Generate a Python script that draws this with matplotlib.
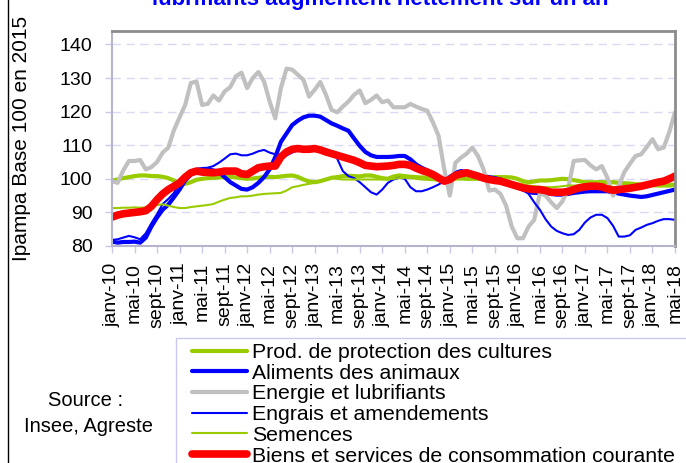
import matplotlib.pyplot as plt
from matplotlib.lines import Line2D
from matplotlib.patches import Rectangle

plt.rcParams['font.family'] = ['Liberation Sans', 'DejaVu Sans']

# monthly index, janv-10 (0) .. mai-18 (100)
months = list(range(101))
tick_pos = list(range(0, 101, 4))
tick_labels = ['janv-10', 'mai-10', 'sept-10', 'janv-11', 'mai-11', 'sept-11',
               'janv-12', 'mai-12', 'sept-12', 'janv-13', 'mai-13', 'sept-13',
               'janv-14', 'mai-14', 'sept-14', 'janv-15', 'mai-15', 'sept-15',
               'janv-16', 'mai-16', 'sept-16', 'janv-17', 'mai-17', 'sept-17',
               'janv-18', 'mai-18']

protection = [99.5, 99.8, 100.2, 100.5, 100.8, 101.0, 101.0, 100.8, 100.8, 100.6,
              100.2, 99.5, 98.8, 98.5, 99.0, 99.7, 100.0, 100.2, 100.3, 100.4,
              100.5, 100.6, 100.4, 100.2, 100.0, 100.1, 100.3, 100.5, 100.6, 100.5,
              100.7, 100.9, 101.0, 100.6, 99.8, 99.2, 99.0, 99.3, 99.8, 100.3,
              100.5, 100.8, 100.9, 100.8, 100.7, 101.0, 101.0, 100.6, 100.2, 100.0,
              100.7, 101.0, 100.8, 100.6, 100.5, 100.4, 100.4, 100.3, 100.2, 100.0,
              100.0, 100.1, 100.1, 100.0, 100.0, 100.0, 100.2, 100.3, 100.5, 100.5,
              100.5, 100.4, 100.0, 99.3, 99.0, 99.2, 99.5, 99.5, 99.6, 99.8,
              100.0, 99.9, 99.6, 99.3, 99.0, 99.0, 99.0, 99.0, 99.0, 99.0,
              98.8, 98.7, 98.6, 98.4, 98.3, 98.2, 98.1, 98.0, 98.0, 98.0,
              98.2]

aliments = [81.3, 81.0, 81.2, 81.2, 81.3, 81.0, 82.5, 85.8, 88.5, 90.8,
            92.3, 94.5, 96.8, 99.5, 101.3, 102.3, 102.6, 102.8, 102.5, 102.0,
            100.5, 99.0, 98.0, 97.0, 96.8, 97.5, 98.8, 100.5, 102.8, 106.5,
            111.0, 113.5, 116.0, 117.3, 118.3, 118.8, 118.8, 118.5, 117.5, 116.5,
            115.8, 115.0, 114.3, 112.0, 109.8, 108.0, 107.0, 106.5, 106.5, 106.5,
            106.6, 106.8, 106.8, 105.8, 104.3, 103.3, 102.5, 101.3, 100.3, 99.3,
            100.5, 101.8, 102.3, 102.0, 101.3, 101.0, 100.8, 100.5, 100.2, 99.8,
            99.0, 98.3, 97.5, 96.8, 96.0, 95.8, 95.8, 95.8, 95.5, 95.3,
            95.3, 95.5, 95.8, 96.0, 96.2, 96.3, 96.3, 96.3, 96.3, 96.0,
            95.6, 95.3, 95.0, 94.8, 94.6, 94.8, 95.2, 95.6, 96.0, 96.4,
            96.8]

energie = [99.3, 98.8, 102.5, 105.3, 105.3, 105.6, 102.8, 103.5, 105.0, 107.8,
           109.3, 114.5, 118.3, 122.0, 128.5, 129.0, 122.0, 122.3, 124.8, 123.3,
           126.0, 127.3, 130.5, 131.6, 127.0, 130.0, 131.8, 129.0, 123.0, 118.0,
           127.0, 132.8, 132.5, 131.0, 129.5, 124.5, 126.5, 128.8, 125.0, 120.5,
           119.8, 121.5, 123.0, 125.0, 126.3, 122.5, 123.5, 124.8, 122.8, 123.3,
           121.3, 121.3, 121.3, 122.3, 121.5, 120.8, 120.3, 116.8, 112.8, 103.0,
           95.0, 104.8, 106.3, 107.5, 109.3, 106.8, 102.8, 96.5, 96.8, 95.5,
           92.0, 85.8, 82.3, 82.3, 85.8, 87.8, 95.8, 95.0, 93.0, 91.3,
           93.3, 96.8, 105.3, 105.5, 105.6, 104.0, 102.8, 103.8, 100.3, 95.0,
           97.8, 102.0, 104.5, 106.8, 107.3, 109.5, 111.8, 108.8, 109.3, 114.0,
           119.8]

engrais = [81.8, 82.0, 82.5, 83.0, 82.6, 82.0, 83.8, 86.8, 89.5, 92.5,
           94.0, 95.8, 98.8, 100.8, 102.3, 103.0, 103.2, 103.3, 103.8, 104.8,
           106.0, 107.3, 107.5, 107.0, 107.0, 107.5, 108.2, 108.6, 107.8, 107.3,
           107.2, 107.0, 107.8, 108.5, 108.8, 108.8, 108.6, 108.8, 108.8, 108.0,
           106.0, 102.3, 100.8, 100.2, 99.0, 97.5, 96.0, 95.3, 96.8, 98.8,
           99.8, 100.3, 100.0, 97.5, 96.3, 96.3, 96.8, 97.5, 98.3, 99.3,
           100.5, 102.0, 102.3, 102.3, 101.5, 100.8, 100.8, 100.5, 99.8, 99.3,
           98.8, 98.0, 97.5, 97.0, 95.5, 93.0, 90.8, 88.0, 85.8, 84.5,
           83.8, 83.3, 83.5, 84.8, 87.0, 88.5, 89.3, 89.3, 88.3, 86.0,
           82.8, 82.8, 83.2, 84.8, 85.5, 86.3, 86.8, 87.5, 88.0, 88.0,
           87.8]

semences = [91.3, 91.3, 91.4, 91.4, 91.5, 91.4, 91.5, 91.8, 92.2, 92.4,
            92.0, 91.6, 91.3, 91.3, 91.6, 91.8, 92.0, 92.2, 92.5, 93.2,
            93.8, 94.3, 94.5, 94.8, 94.8, 95.0, 95.3, 95.5, 95.6, 95.7,
            95.8, 96.5, 97.5, 97.8, 98.2, 98.5, 98.8, 99.2, 99.8, 100.3,
            100.0, 99.8, 99.8, 99.8, 99.8, 99.8, 99.8, 99.8, 99.8, 99.9,
            100.0, 100.2, 100.3, 100.2, 100.0, 99.8, 99.7, 99.6, 99.4, 99.2,
            99.5, 99.8, 100.0, 100.2, 100.3, 100.3, 100.0, 99.8, 99.6, 99.4,
            99.0, 98.8, 98.6, 98.4, 98.0, 97.8, 97.6, 97.5, 97.5, 97.6,
            97.8, 98.0, 98.0, 98.1, 98.2, 98.2, 98.2, 98.0, 97.8, 97.6,
            97.5, 97.5, 97.6, 97.7, 97.8, 97.9, 98.0, 98.0, 98.2, 98.4,
            98.6]

biens = [88.6, 89.2, 89.6, 89.8, 90.0, 90.2, 90.5, 91.8, 93.8, 95.5,
         96.8, 97.8, 98.8, 100.5, 101.8, 102.3, 102.0, 101.9, 101.8, 102.0,
         102.3, 102.3, 102.3, 101.5, 101.3, 102.3, 103.3, 103.6, 103.8, 103.8,
         106.5, 108.0, 108.8, 109.0, 108.8, 108.8, 109.0, 108.6, 108.0, 107.5,
         107.0, 106.5, 106.0, 105.5, 104.8, 104.0, 103.8, 103.6, 103.7, 103.8,
         104.0, 104.3, 104.3, 104.0, 103.2, 102.5, 102.0, 101.3, 100.3, 99.3,
         99.8, 101.0, 101.5, 101.8, 101.3, 100.8, 100.2, 99.8, 99.5, 99.3,
         98.8, 98.3, 97.8, 97.3, 97.0, 96.8, 96.8, 96.5, 96.0, 96.0,
         96.0, 96.2, 96.8, 97.3, 97.6, 97.8, 97.8, 97.6, 97.0, 96.6,
         96.8, 97.0, 97.2, 97.5, 97.8, 98.2, 98.6, 99.0, 99.3, 100.0,
         100.8]

series = [
    ('Prod. de protection des cultures', protection, '#99CC00', 3.0),
    ('Aliments des animaux', aliments, '#0000FF', 3.0),
    ('Energie et lubrifiants', energie, '#C0C0C0', 3.0),
    ('Engrais et amendements', engrais, '#0000FF', 1.5),
    ('Semences', semences, '#99CC00', 1.5),
    ('Biens et services de consommation courante', biens, '#FF0000', 5.5),
]

W, H = 686, 463
fig = plt.figure(figsize=(W / 100, H / 100), dpi=100)
ax = fig.add_axes([112 / W, 1 - 246 / H, (675 - 112) / W, (246 - 31) / H])

for label, vals, color, lw in series:
    ax.plot(months, vals, color=color, lw=lw, label=label,
            solid_joinstyle='round', solid_capstyle='round')

ax.set_xlim(0, 100)
ax.set_ylim(80, 144)
ax.set_yticks([80, 90, 100, 110, 120, 130, 140])
ax.set_xticks(tick_pos)
ax.set_xticklabels(tick_labels, rotation=90)
ax.tick_params(axis='both', labelsize=14, color='#C8C8E8', length=5, width=1)
ax.tick_params(axis='x', pad=7)
ax.tick_params(axis='y', pad=9)
ax.grid(axis='y', color='#D8D8F4', lw=1, ls=(0, (6, 4)))
ax.set_axisbelow(True)

for side in ['top', 'right']:
    ax.spines[side].set_color('#8C8C8C')
    ax.spines[side].set_linewidth(2)
for side in ['left', 'bottom']:
    ax.spines[side].set_color('#B4B4CC')
    ax.spines[side].set_linewidth(1.5)

fig.text(22 / W, 1 - 138 / H, 'Ipampa Base 100 en 2015', rotation=90,
         ha='center', va='center', fontsize=15)

fig.text(380 / W, 1 - 4.5 / H, 'lubrifiants augmentent nettement sur un an',
         ha='center', va='baseline', fontsize=16, fontweight='bold', color='#0000FF')

fig.text(86 / W, 1 - 400 / H, 'Source :', ha='center', va='center', fontsize=14.5)
fig.text(88 / W, 1 - 426 / H, 'Insee, Agreste', ha='center', va='center', fontsize=14.5)

fig.add_artist(Line2D([8 / W, 8 / W], [0, 1], color='black', lw=1))

# legend box runs past the right and bottom edges
fig.add_artist(Rectangle((176 / W, -0.05), 0.8, 1 - 338 / H + 0.05,
                         transform=fig.transFigure, fill=False,
                         edgecolor='#C8C8F0', lw=1))

leg = fig.legend(loc='upper left', bbox_to_anchor=(192 / W, 1 - 343 / H),
                 fontsize=15.3, frameon=False, handlelength=2.6,
                 handletextpad=0.24, labelspacing=0.08, borderpad=0,
                 borderaxespad=0)

fig.savefig('out.png', dpi=100)
